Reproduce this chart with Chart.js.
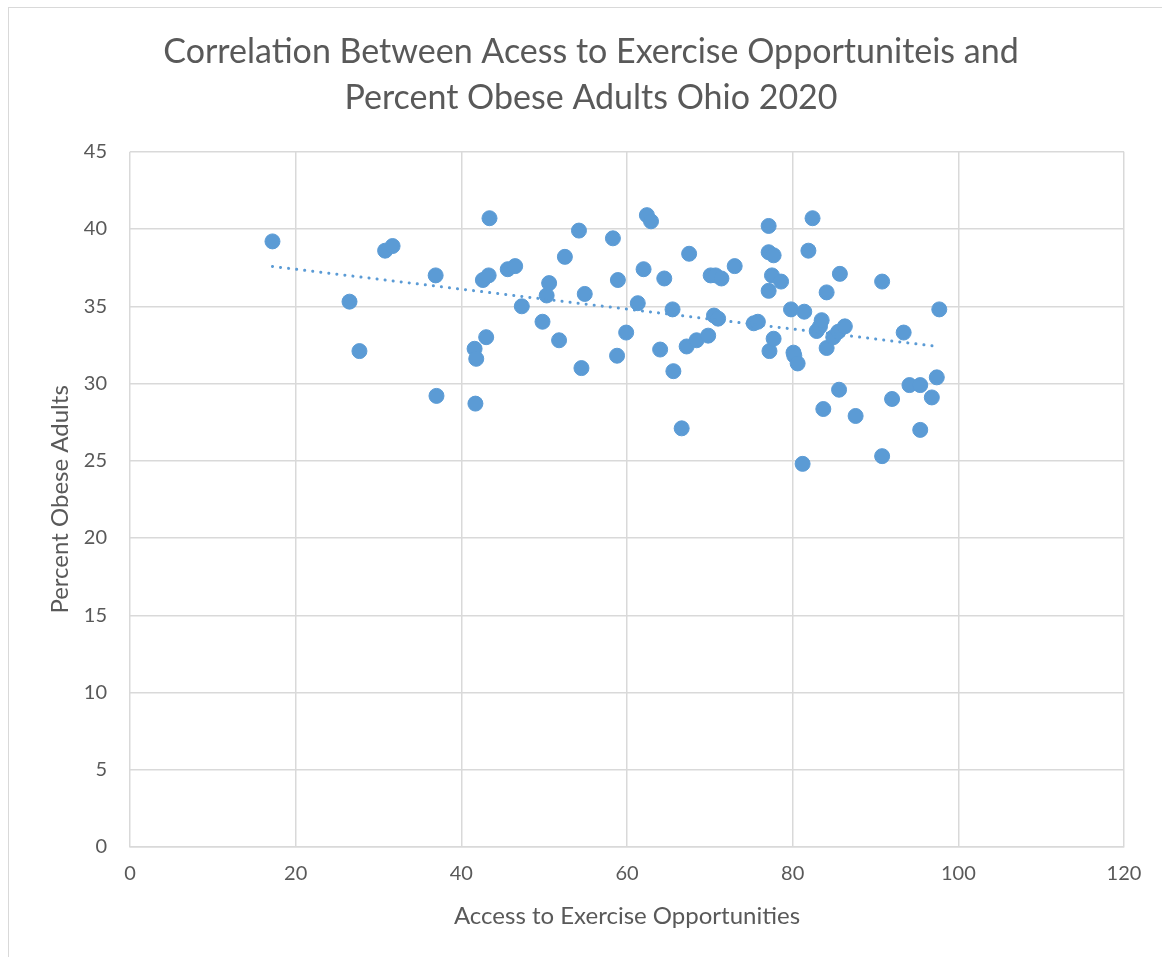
<!DOCTYPE html>
<html lang="en">
<head>
  <meta charset="UTF-8">
  <title>Exercise Access vs Obesity Ohio 2020</title>
  <script src="https://cdn.jsdelivr.net/npm/chart.js"></script>
  <style>
    body { margin: 0; background: #fff; }
    .frame {
      position: absolute; left: 8px; top: 7px;
      width: 1160px; height: 960px;
      border: 1px solid #d9d9d9;
      background: #fff;
    }
    #chart { display: block; }
  </style>
</head>
<body>
  <div class="frame">
    <canvas id="chart" width="1160" height="950"></canvas>
  </div>

  <script>
    // access to exercise opportunities (%)
    const access = [
      17.2, 26.5, 27.7, 30.8, 31.7, 36.9, 37.0, 41.6, 41.8, 41.7,
      42.6, 43.3, 43.0, 43.4, 45.6, 46.5, 47.3, 49.8, 50.3, 50.6,
      51.8, 52.5, 54.2, 54.5, 54.9, 58.3, 58.8, 58.9, 59.9, 61.3,
      62.0, 62.4, 62.9, 64.0, 64.5, 65.5, 65.6, 66.6, 67.2, 67.5,
      68.4, 69.8, 70.1, 70.7, 70.5, 71.0, 71.4, 73.0, 75.3, 75.8,
      77.1, 77.1, 77.7, 77.1, 77.5, 77.2, 77.7, 78.6, 79.8, 80.1,
      80.2, 80.6, 81.2, 81.4, 81.9, 82.4, 82.9, 83.3, 83.5, 83.7,
      84.1, 84.1, 84.9, 85.5, 85.7, 85.6, 86.3, 87.6, 90.8, 90.8,
      92.0, 93.4, 94.1, 95.4, 95.4, 96.8, 97.4, 97.7
    ];
    // percent obese adults
    const obese = [
      39.2, 35.3, 32.1, 38.6, 38.9, 37.0, 29.2, 32.25, 31.6, 28.7,
      36.7, 37.0, 33.0, 40.7, 37.4, 37.6, 35.0, 34.0, 35.7, 36.5,
      32.8, 38.2, 39.9, 31.0, 35.8, 39.4, 31.8, 36.7, 33.3, 35.2,
      37.4, 40.9, 40.5, 32.2, 36.8, 34.8, 30.8, 27.1, 32.4, 38.4,
      32.8, 33.1, 37.0, 37.0, 34.4, 34.2, 36.8, 37.6, 33.9, 34.0,
      40.2, 38.5, 38.3, 36.0, 37.0, 32.1, 32.9, 36.6, 34.8, 32.0,
      31.8, 31.3, 24.8, 34.65, 38.6, 40.7, 33.4, 33.7, 34.1, 28.35,
      35.9, 32.3, 33.0, 33.35, 37.1, 29.6, 33.7, 27.9, 36.6, 25.3,
      29.0, 33.3, 29.9, 29.9, 27.0, 29.1, 30.4, 34.8
    ];

    const xTicks = [0, 20, 40, 60, 80, 100, 120];
    const yTicks = [0, 5, 10, 15, 20, 25, 30, 35, 40, 45];

    const points = access.map((x, i) => ({ x: x, y: obese[i] }));

    // least squares trendline over the data range
    const n = access.length;
    const mx = access.reduce((a, b) => a + b, 0) / n;
    const my = obese.reduce((a, b) => a + b, 0) / n;
    let sxy = 0, sxx = 0;
    for (let i = 0; i < n; i++) {
      sxy += (access[i] - mx) * (obese[i] - my);
      sxx += (access[i] - mx) * (access[i] - mx);
    }
    const slope = sxy / sxx;
    const icept = my - slope * mx;
    const xLo = Math.min(...access), xHi = Math.max(...access);
    const trend = [
      { x: xLo, y: icept + slope * xLo },
      { x: xHi, y: icept + slope * xHi }
    ];

    const FONT = "Lato, 'Open Sans', sans-serif";
    const GREY = '#595959';
    const BLUE = '#5b9bd5';

    new Chart(document.getElementById('chart'), {
      type: 'scatter',
      data: {
        datasets: [
          {
            label: 'Percent Obese Adults',
            data: points,
            backgroundColor: BLUE,
            borderColor: BLUE,
            pointRadius: 7.5,
            pointHoverRadius: 7.5,
            order: 2
          },
          {
            label: 'Trend',
            type: 'line',
            data: trend,
            borderColor: BLUE,
            borderWidth: 3,
            borderDash: [0.1, 8],
            borderCapStyle: 'round',
            pointRadius: 0,
            fill: false,
            order: 1
          }
        ]
      },
      options: {
        responsive: false,
        animation: false,
        layout: { padding: { left: 49, right: 45, top: 0, bottom: 27 } },
        plugins: {
          legend: { display: false },
          tooltip: { enabled: false },
          title: {
            display: true,
            text: ['Correlation Between Acess to Exercise Opportuniteis and', 'Percent Obese Adults Ohio 2020'],
            color: GREY,
            font: { family: FONT, size: 34, weight: 'normal', lineHeight: 1.35 },
            padding: { top: 21, bottom: 31 }
          }
        },
        scales: {
          x: {
            type: 'linear',
            min: 0, max: 120,
            afterBuildTicks: axis => { axis.ticks = xTicks.map(v => ({ value: v })); },
            afterFit: axis => { axis.height = 84; },
            grid: { color: '#d9d9d9', lineWidth: 1.5, drawTicks: false },
            border: { color: '#d9d9d9', width: 1.5 },
            ticks: { color: GREY, font: { family: FONT, size: 20 }, padding: 15 },
            title: {
              display: true,
              text: 'Access to Exercise Opportunities',
              color: GREY,
              font: { family: FONT, size: 24 },
              padding: { top: -12, bottom: 0 }
            }
          },
          y: {
            min: 0, max: 45,
            afterBuildTicks: axis => { axis.ticks = yTicks.map(v => ({ value: v })); },
            afterFit: axis => { axis.width = 72; },
            grid: { color: '#d9d9d9', lineWidth: 1.5, drawTicks: false },
            border: { display: false },
            ticks: { color: GREY, font: { family: FONT, size: 20 }, padding: 23 },
            title: {
              display: true,
              text: 'Percent Obese Adults',
              color: GREY,
              font: { family: FONT, size: 24 },
              padding: { top: -12, bottom: 0 }
            }
          }
        }
      }
    });
  </script>
</body>
</html>
